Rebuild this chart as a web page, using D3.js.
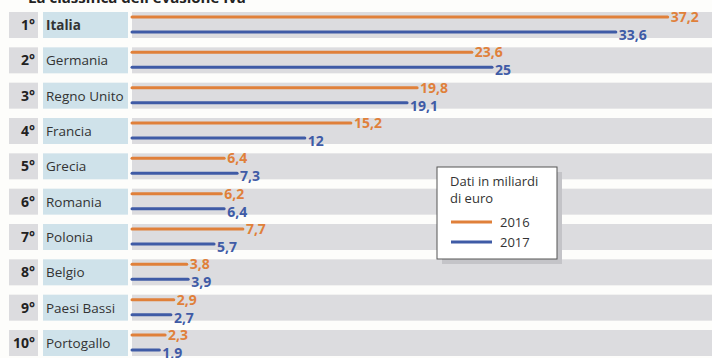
<!DOCTYPE html>
<html>
<head>
<meta charset="utf-8">
<script src="https://cdn.jsdelivr.net/npm/d3@7"></script>
<style>
  html, body { margin: 0; padding: 0; background: #fdfdfb; overflow: hidden; }
  svg { display: block; }
</style>
</head>
<body>
<script>
const ranks = ['1°', '2°', '3°', '4°', '5°', '6°', '7°', '8°', '9°', '10°'];
const countries = ['Italia', 'Germania', 'Regno Unito', 'Francia', 'Grecia', 'Romania', 'Polonia', 'Belgio', 'Paesi Bassi', 'Portogallo'];
const values2016 = [37.2, 23.6, 19.8, 15.2, 6.4, 6.2, 7.7, 3.8, 2.9, 2.3];
const values2017 = [33.6, 25, 19.1, 12, 7.3, 6.4, 5.7, 3.9, 2.7, 1.9];
const years = ['2016', '2017'];

const WIDTH = 712;
const HEIGHT = 358;
const ORANGE = '#e0803a';
const BLUE = '#3f5ba6';
const FONT = '"Open Sans", sans-serif';

let svg = d3.select('body')
  .append('svg')
  .attr('width', WIDTH)
  .attr('height', HEIGHT);

// title, cut off by the top edge
svg.append('text')
  .attr('x', 28)
  .attr('y', 3)
  .attr('font-family', FONT)
  .attr('font-weight', 700)
  .attr('font-size', '15px')
  .attr('fill', '#222')
  .text("La classifica dell'evasione Iva");

let yScale = d3.scaleBand()
  .domain(countries)
  .range([12, 356])
  .paddingInner(0.264)
  .paddingOuter(0);

let xScale = d3.scaleLinear()
  .domain([0, 40])
  .range([132, 708]);

let rows = svg.selectAll('g.row')
  .data(countries)
  .enter()
  .append('g')
  .attr('class', 'row')
  .attr('transform', (d) => { return 'translate(0,' + yScale(d) + ')'; });

// background cells
rows.append('rect')
  .attr('x', 9).attr('width', 29)
  .attr('height', yScale.bandwidth())
  .attr('fill', '#dcdcdf');

rows.append('rect')
  .attr('x', 43).attr('width', 85)
  .attr('height', yScale.bandwidth())
  .attr('fill', '#cfe2ea');

rows.append('rect')
  .attr('x', 132).attr('width', WIDTH - 132)
  .attr('height', yScale.bandwidth())
  .attr('fill', '#dcdcdf');

rows.append('text')
  .attr('x', 35)
  .attr('y', 18)
  .attr('text-anchor', 'end')
  .attr('font-family', FONT)
  .attr('font-weight', 700)
  .attr('font-size', '14px')
  .attr('fill', '#222')
  .text((d, i) => ranks[i]);

rows.append('text')
  .attr('x', 46)
  .attr('y', 18)
  .attr('font-family', FONT)
  .attr('font-weight', (d, i) => i === 0 ? 700 : 400)
  .attr('font-size', '13.5px')
  .attr('fill', '#333')
  .text((d) => d);

const fmt = (v) => String(v).replace('.', ',');

function drawSeries(vals, dy, labelShift, color) {
  rows.append('line')
    .attr('x1', xScale(0))
    .attr('x2', (d, i) => xScale(vals[i]))
    .attr('y1', dy).attr('y2', dy)
    .attr('stroke', color)
    .attr('stroke-width', 3)
    .attr('stroke-linecap', 'round');

  rows.append('text')
    .attr('x', (d, i) => xScale(vals[i]) + 3)
    .attr('y', dy + labelShift)
    .attr('dy', '0.36em')
    .attr('font-family', FONT)
    .attr('font-weight', 700)
    .attr('font-size', '14px')
    .attr('fill', color)
    .text((d, i) => fmt(vals[i]));
}

drawSeries(values2016, 5, 0, ORANGE);
drawSeries(values2017, 20, 3, BLUE);

// legend
let legend = svg.append('g').attr('transform', 'translate(437,167)');

legend.append('rect')
  .attr('x', 5).attr('y', 5)
  .attr('width', 120).attr('height', 92)
  .attr('fill', '#c4c4c8');

legend.append('rect')
  .attr('width', 120).attr('height', 92)
  .attr('fill', '#ffffff')
  .attr('stroke', '#555')
  .attr('stroke-width', 1);

legend.append('text')
  .attr('x', 13).attr('y', 19)
  .attr('font-family', FONT)
  .attr('font-size', '13px')
  .attr('fill', '#333')
  .text('Dati in miliardi');

legend.append('text')
  .attr('x', 13).attr('y', 36)
  .attr('font-family', FONT)
  .attr('font-size', '13px')
  .attr('fill', '#333')
  .text('di euro');

let legendItems = legend.selectAll('g.item')
  .data(years)
  .enter()
  .append('g')
  .attr('class', 'item')
  .attr('transform', (d, i) => 'translate(14,' + (55 + i * 20) + ')');

legendItems.append('line')
  .attr('x1', 0).attr('x2', 41)
  .attr('stroke', (d, i) => i === 0 ? ORANGE : BLUE)
  .attr('stroke-width', 3);

legendItems.append('text')
  .attr('x', 49)
  .attr('dy', '0.36em')
  .attr('font-family', FONT)
  .attr('font-size', '13px')
  .attr('fill', '#333')
  .text((d) => d);
</script>
</body>
</html>
